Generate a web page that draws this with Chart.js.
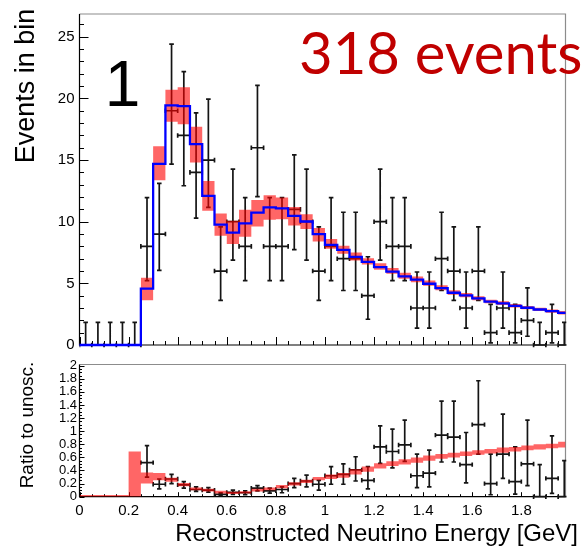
<!DOCTYPE html>
<html>
<head>
<meta charset="utf-8">
<script src="https://cdn.jsdelivr.net/npm/chart.js@4.4.1/dist/chart.umd.min.js"></script>
<style>
  html, body { margin: 0; padding: 0; background: #ffffff; }
  #wrap { position: relative; width: 583px; height: 558px; overflow: hidden; background: #ffffff; }
  canvas { position: absolute; left: 0; }
  #topChart { top: 0; }
  #botChart { top: 352px; }
</style>
</head>
<body>
<div id="wrap">
  <canvas id="topChart" width="583" height="360"></canvas>
  <canvas id="botChart" width="583" height="206"></canvas>
</div>
<script>
// ---------------- data ----------------
const binCenters = [0.025,0.075,0.125,0.175,0.225,0.275,0.325,0.375,0.425,0.475,
                    0.525,0.575,0.625,0.675,0.725,0.775,0.825,0.875,0.925,0.975,
                    1.025,1.075,1.125,1.175,1.225,1.275,1.325,1.375,1.425,1.475,
                    1.525,1.575,1.625,1.675,1.725,1.775,1.825,1.875,1.925,1.975];
const binWidth = 0.05;

// observed events per bin
const dataCounts = [0,0,0,0,0,8,9,19,17,14,
                    15,6,10,8,16,8,8,11,10,6,
                    8,7,7,4,10,8,8,3,3,7,
                    6,3,6,1,3,1,2,0,1,0];
// error bar ends (asymmetric)
const dataLow  = [0,0,0,0,0,5.23,6.06,14.68,12.92,10.29,
                  11.16,3.62,6.89,5.23,12.04,5.23,5.23,7.74,6.89,3.62,
                  5.23,4.42,4.42,2.09,6.89,5.23,5.23,1.37,1.37,4.42,
                  3.62,1.37,3.62,0.17,1.37,0.17,0.71,0,0.17,0];
const dataHigh = [1.84,1.84,1.84,1.84,1.84,11.95,13.11,24.41,22.18,18.83,
                  19.95,9.58,14.27,11.95,21.06,11.95,11.95,15.42,14.27,9.58,
                  11.95,10.77,10.77,7.16,14.27,11.95,11.95,5.92,5.92,10.77,
                  9.58,5.92,9.58,3.30,5.92,3.30,4.64,1.84,3.30,1.84];

// best-fit prediction (blue histogram)
const predicted = [0,0,0,0,0,4.57,14.7,19.44,19.38,16.3,
                   12.1,9.76,9.12,9.87,10.73,11.16,11.08,10.48,10.02,9.0,
                   8.12,7.72,7.15,6.75,6.32,5.95,5.56,5.31,4.97,4.62,
                   4.24,4.03,3.78,3.52,3.38,3.17,3.02,2.88,2.74,2.61];
// systematic error band on prediction
const bandLow  = [null,null,null,null,null,3.63,13.36,18.1,17.9,14.8,
                  10.9,8.87,8.2,8.79,9.62,10.16,10.2,9.7,9.4,8.4,
                  7.8,7.4,6.85,6.53,6.1,5.78,5.38,5.1,4.8,4.45,
                  4.08,3.88,3.63,3.38,3.25,3.04,2.9,2.76,2.62,2.48];
const bandHigh = [null,null,null,null,null,5.46,16.13,20.7,20.9,17.7,
                  13.3,10.67,10.08,10.97,11.77,12.15,11.96,11.2,10.6,9.5,
                  8.6,8.06,7.5,7.04,6.64,6.24,5.86,5.56,5.24,4.85,
                  4.45,4.22,3.96,3.68,3.54,3.32,3.17,3.02,2.88,2.76];

// ratio to unoscillated: data points
const ratioData = [null,null,null,null,null,0.52,0.19,0.27,0.18,0.11,
                   0.10,0.036,0.066,0.06,0.13,0.09,0.11,0.20,0.24,0.19,
                   0.32,0.34,0.41,0.25,0.76,0.69,0.79,0.32,0.36,0.94,
                   0.91,0.49,1.10,0.20,0.65,0.23,0.50,0,0.28,0];
const ratioLow  = [null,null,null,null,null,0.30,0.12,0.20,0.13,0.08,
                   0.07,0.015,0.036,0.03,0.09,0.056,0.06,0.14,0.15,0.10,
                   0.19,0.19,0.24,0.12,0.51,0.44,0.54,0.14,0.15,0.53,
                   0.53,0.21,0.65,0.03,0.28,0.04,0.17,0,0.05,0];
const ratioHigh = [null,null,null,null,null,0.78,0.27,0.34,0.23,0.15,
                   0.14,0.06,0.10,0.09,0.17,0.13,0.15,0.28,0.33,0.25,
                   0.46,0.50,0.61,0.46,1.08,1.03,1.17,0.65,0.71,1.46,
                   1.46,0.98,1.77,0.65,1.26,0.76,1.17,0.49,0.93,0.55];
// ratio of prediction, band
const ratioBandLow  = [0,0,0,0,0,0.20,0.25,0.23,0.16,0.10,
                       0.08,0.05,0.04,0.05,0.08,0.10,0.13,0.17,0.21,0.25,
                       0.27,0.29,0.34,0.38,0.43,0.47,0.49,0.52,0.55,0.58,
                       0.60,0.62,0.64,0.66,0.67,0.69,0.71,0.72,0.74,0.75];
const ratioBandHigh = [0.025,0.025,0.025,0.025,0.69,0.37,0.36,0.29,0.21,0.14,
                       0.12,0.09,0.075,0.085,0.12,0.14,0.18,0.22,0.26,0.30,
                       0.34,0.36,0.42,0.46,0.51,0.54,0.57,0.60,0.63,0.65,
                       0.67,0.69,0.71,0.73,0.75,0.76,0.78,0.80,0.81,0.84];

// tick labels
const energyTicks = [0,0.2,0.4,0.6,0.8,1,1.2,1.4,1.6,1.8];
const eventsTicks = [0,5,10,15,20,25];
const ratioTicks  = [0,0.2,0.4,0.6,0.8,1,1.2,1.4,1.6,1.8,2];

// ---------------- helpers ----------------
Chart.defaults.font.family = "'Liberation Sans', Arial, sans-serif";
Chart.defaults.color = '#000';

const fmt = v => String(Math.round(v * 100) / 100);

function makeRootPlugin(cfg) {
  return {
    id: 'rootStyle',
    beforeDatasetsDraw(chart) {
      const { ctx, chartArea: a } = chart;
      const xs = chart.scales.x, ys = chart.scales.y;
      ctx.save();
      // inward tick marks on left and bottom axes
      ctx.strokeStyle = '#000';
      ctx.lineWidth = 1;
      ctx.beginPath();
      for (let k = 0; ; k++) {
        const v = k * cfg.xMinor;
        if (v > xs.max + 1e-9) break;
        const major = cfg.xMajor.some(m => Math.abs(m - v) < 1e-6);
        const px = Math.round(xs.getPixelForValue(v)) + 0.5;
        ctx.moveTo(px, a.bottom);
        ctx.lineTo(px, a.bottom - (major ? cfg.xMajorLen : cfg.xMinorLen));
      }
      for (let k = 0; ; k++) {
        const v = k * cfg.yMinor;
        if (v > ys.max + 1e-9) break;
        const major = cfg.yMajor.some(m => Math.abs(m - v) < 1e-6);
        const py = Math.round(ys.getPixelForValue(v)) + 0.5;
        ctx.moveTo(a.left, py);
        ctx.lineTo(a.left + (major ? cfg.yMajorLen : cfg.yMinorLen), py);
      }
      ctx.stroke();
      // frame: grey top/right, black left/bottom
      ctx.strokeStyle = '#8c8c8c';
      ctx.lineWidth = 1.2;
      ctx.beginPath();
      ctx.moveTo(a.left, a.top); ctx.lineTo(a.right, a.top); ctx.lineTo(a.right, a.bottom);
      ctx.stroke();
      ctx.strokeStyle = '#000';
      ctx.lineWidth = 1.2;
      ctx.beginPath();
      ctx.moveTo(a.left, a.top); ctx.lineTo(a.left, a.bottom); ctx.lineTo(a.right, a.bottom);
      ctx.stroke();
      // error bars of the data points
      const e = cfg.errors;
      ctx.beginPath();
      ctx.rect(a.left, a.top - 3, a.right - a.left + 1, a.bottom - a.top + 6);
      ctx.clip();
      ctx.strokeStyle = '#141414';
      ctx.lineWidth = 1.7;
      ctx.beginPath();
      e.x.forEach((cx, i) => {
        const v = e.y[i];
        if (v === null || v === undefined) return;
        const px = xs.getPixelForValue(cx);
        const py = ys.getPixelForValue(v);
        const x0 = xs.getPixelForValue(cx - e.half);
        const x1 = xs.getPixelForValue(cx + e.half);
        const yl = ys.getPixelForValue(e.lo[i]);
        const yh = ys.getPixelForValue(e.hi[i]);
        ctx.moveTo(x0, py); ctx.lineTo(x1, py);
        ctx.moveTo(x0, py - e.cap); ctx.lineTo(x0, py + e.cap);
        ctx.moveTo(x1, py - e.cap); ctx.lineTo(x1, py + e.cap);
        ctx.moveTo(px, yl); ctx.lineTo(px, yh);
        ctx.moveTo(px - e.cap, yl); ctx.lineTo(px + e.cap, yl);
        ctx.moveTo(px - e.cap, yh); ctx.lineTo(px + e.cap, yh);
      });
      ctx.stroke();
      ctx.restore();
    },
    afterDraw(chart) {
      const ctx = chart.ctx;
      (cfg.texts || []).forEach(t => {
        ctx.save();
        ctx.font = t.font;
        ctx.fillStyle = t.color;
        ctx.textAlign = t.align;
        ctx.textBaseline = 'alphabetic';
        ctx.translate(t.x, t.y);
        if (t.rotate) ctx.rotate(t.rotate);
        ctx.fillText(t.text, 0, 0);
        ctx.restore();
      });
    }
  };
}

// histogram outline points (bin low edges + final upper edge), null bins skipped
function stepPoints(values) {
  const pts = [];
  let last = null;
  values.forEach((v, i) => {
    if (v === null) return;
    pts.push({ x: binCenters[i] - binWidth / 2, y: v });
    last = i;
  });
  pts.push({ x: binCenters[last] + binWidth / 2, y: values[last] });
  return pts;
}

function bandDatasets(lo, hi) {
  return [
    {
      type: 'line', data: stepPoints(hi), stepped: 'before',
      borderWidth: 0, pointRadius: 0,
      backgroundColor: 'rgba(255,0,0,0.6)',
      fill: '+1', order: 1, clip: 0
    },
    {
      type: 'line', data: stepPoints(lo), stepped: 'before',
      borderWidth: 0, pointRadius: 0,
      fill: false, order: 2, clip: 0
    }
  ];
}

// ---------------- top panel ----------------
new Chart(document.getElementById('topChart'), {
  type: 'line',
  data: {
    datasets: [
      {
        type: 'line',
        data: stepPoints(predicted),
        borderColor: '#0000ff',
        borderWidth: 2.3,
        stepped: 'before',
        pointRadius: 0,
        fill: false,
        order: 0,
        clip: { left: 3, top: 3, right: 0, bottom: 3 }
      },
      ...bandDatasets(bandLow, bandHigh)
    ]
  },
  options: {
    responsive: false,
    animation: false,
    devicePixelRatio: 1,
    events: [],
    layout: { padding: { left: 0, top: 12, right: 17.5, bottom: 0 } },
    plugins: { legend: { display: false }, tooltip: { enabled: false }, filler: { propagate: false } },
    scales: {
      x: {
        type: 'linear', min: 0, max: 1.98, offset: false,
        grid: { display: false, drawTicks: false },
        border: { display: false },
        ticks: { display: false },
        afterBuildTicks: s => { s.ticks = energyTicks.map(v => ({ value: v })); },
        afterFit: s => { s.height = 15; }
      },
      y: {
        type: 'linear', min: 0, max: 26.85,
        grid: { display: false, drawTicks: false },
        border: { display: false },
        ticks: { font: { size: 15 }, color: '#000', padding: 5, autoSkip: false, callback: fmt },
        afterBuildTicks: s => { s.ticks = eventsTicks.map(v => ({ value: v })); },
        afterFit: s => { s.width = 79.5; }
      }
    }
  },
  plugins: [makeRootPlugin({
    xMinor: 0.05, xMajor: energyTicks, xMajorLen: 8, xMinorLen: 4,
    yMinor: 1, yMajor: eventsTicks, yMajorLen: 9, yMinorLen: 4.5,
    errors: { x: binCenters, y: dataCounts, lo: dataLow, hi: dataHigh, half: binWidth / 2, cap: 2.3 },
    texts: [
      { text: 'Events in bin', x: 33.5, y: 86, font: "27px 'Liberation Sans', Arial, sans-serif", color: '#000', align: 'center', rotate: -Math.PI / 2 },
      { text: '1', x: 104.7, y: 106, font: "64px 'Liberation Sans', Arial, sans-serif", color: '#000', align: 'left' },
      { text: '318 events', x: 299, y: 74, font: "58px Lato, 'Open Sans', sans-serif", color: '#c00000', align: 'left' }
    ]
  })]
});

// ---------------- bottom (ratio) panel ----------------
new Chart(document.getElementById('botChart'), {
  type: 'line',
  data: {
    datasets: bandDatasets(ratioBandLow, ratioBandHigh)
  },
  options: {
    responsive: false,
    animation: false,
    devicePixelRatio: 1,
    events: [],
    layout: { padding: { left: 0, top: 12.5, right: 17.5, bottom: 0 } },
    plugins: { legend: { display: false }, tooltip: { enabled: false }, filler: { propagate: false } },
    scales: {
      x: {
        type: 'linear', min: 0, max: 1.98, offset: false,
        grid: { display: false, drawTicks: false },
        border: { display: false },
        ticks: { font: { size: 15 }, color: '#000', padding: 5, autoSkip: false, maxRotation: 0, callback: fmt },
        afterBuildTicks: s => { s.ticks = energyTicks.map(v => ({ value: v })); },
        afterFit: s => { s.height = 61.3; }
      },
      y: {
        type: 'linear', min: 0, max: 2.018,
        grid: { display: false, drawTicks: false },
        border: { display: false },
        ticks: { font: { size: 13 }, color: '#000', padding: 2.5, autoSkip: false, callback: fmt },
        afterBuildTicks: s => { s.ticks = ratioTicks.map(v => ({ value: v })); },
        afterFit: s => { s.width = 79.5; }
      }
    }
  },
  plugins: [makeRootPlugin({
    xMinor: 0.05, xMajor: energyTicks, xMajorLen: 4.5, xMinorLen: 2.5,
    yMinor: 0.05, yMajor: ratioTicks, yMajorLen: 5, yMinorLen: 2.5,
    errors: { x: binCenters, y: ratioData, lo: ratioLow, hi: ratioHigh, half: binWidth / 2, cap: 2.2 },
    texts: [
      { text: 'Ratio to unosc.', x: 33, y: 73, font: "19px 'Liberation Sans', Arial, sans-serif", color: '#000', align: 'center', rotate: -Math.PI / 2 },
      { text: 'Reconstructed Neutrino Energy [GeV]', x: 578, y: 189, font: "24px 'Liberation Sans', Arial, sans-serif", color: '#000', align: 'right' }
    ]
  })]
});
</script>
</body>
</html>
